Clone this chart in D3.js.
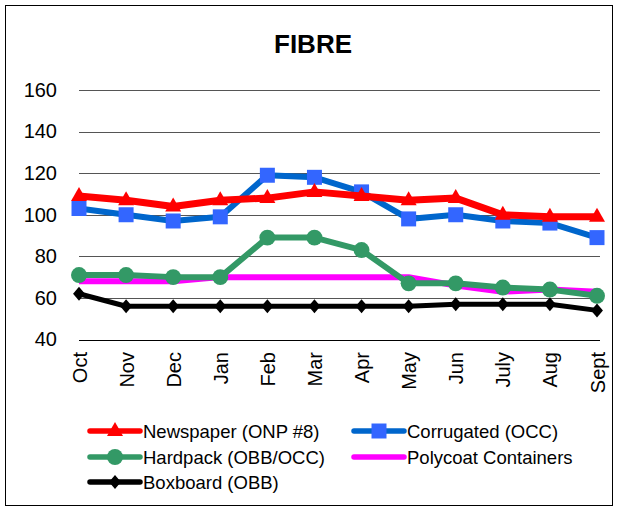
<!DOCTYPE html>
<html><head><meta charset="utf-8">
<script src="https://cdn.jsdelivr.net/npm/d3@7"></script>
<style>body{margin:0;background:#fff}svg{display:block}text{font-family:"Liberation Sans",Arial,sans-serif}</style>
</head><body>
<svg id="c" width="617" height="509"></svg>
<script>
const months = ["Oct","Nov","Dec","Jan","Feb","Mar","Apr","May","Jun","July","Aug","Sept"];
const yTicks = [40,60,80,100,120,140,160];
const newspaper  = [109,107,104,107,108,111,109,107,108,100,99,99];
const corrugated = [103,100,97,99,119,118,111,98,100,97,96,89];
const hardpack   = [71,71,70,70,89,89,83,67,67,65,64,61];
const polycoat   = [68,68,68,70,70,70,70,70,66,63,64,63];
const boxboard   = [62,56,56,56,56,56,56,56,57,57,57,54];
const seriesNames = ["Newspaper (ONP #8)","Corrugated (OCC)","Hardpack (OBB/OCC)","Polycoat Containers","Boxboard (OBB)"];

const series = [
  {name:seriesNames[0], values:newspaper, line:"#ff0000", fill:"#ff0000", marker:"triangle", w:7},
  {name:seriesNames[1], values:corrugated, line:"#0066cc", fill:"#3366ff", marker:"square", w:6},
  {name:seriesNames[2], values:hardpack, line:"#339966", fill:"#339966", marker:"circle", w:6},
  {name:seriesNames[3], values:polycoat, line:"#ff00ff", fill:"#ff00ff", marker:null, w:6},
  {name:seriesNames[4], values:boxboard, line:"#000000", fill:"#000000", marker:"diamond", w:5}
];

const svg = d3.select("#c");
svg.append("rect").attr("x",5.5).attr("y",5.5).attr("width",607).attr("height",500)
  .attr("fill","#fff").attr("stroke","#000").attr("stroke-width",1);

svg.append("text").attr("x",313).attr("y",53).attr("text-anchor","middle")
  .attr("font-size",26).attr("font-weight","bold").text("FIBRE");

const x = d3.scalePoint().domain(months).range([79,597]);
const y = d3.scaleLinear().domain([40,160]).range([339.5,90]);

// gridlines
svg.append("g").selectAll("line").data(yTicks).join("line")
  .attr("x1",79).attr("x2",600)
  .attr("y1",d=>Math.round(y(d))+0.5).attr("y2",d=>Math.round(y(d))+0.5)
  .attr("stroke",d=>d===40?"#000":"#555").attr("stroke-width",1);

// y axis labels
const yAxis = d3.axisLeft(y).tickValues(yTicks).tickSize(0).tickPadding(0);
const yg = svg.append("g").attr("transform","translate(57,0)").call(yAxis);
yg.select(".domain").remove();
yg.selectAll("text").attr("font-size",20).attr("fill","#000").attr("font-family","Liberation Sans, Arial, sans-serif");

// x axis labels
const xAxis = d3.axisBottom(x).tickSize(0).tickPadding(0);
const xg = svg.append("g").attr("transform","translate(0,352)").call(xAxis);
xg.select(".domain").remove();
xg.selectAll("text").attr("font-size",20).attr("fill","#000")
  .attr("font-family","Liberation Sans, Arial, sans-serif")
  .attr("transform","rotate(-90)").attr("text-anchor","end").attr("dy","0.35em").attr("x",0).attr("y",0);

const diamondPath = (r)=>`M0,${-r}L${r*0.85},0L0,${r}L${-r*0.85},0Z`;
const sym = {
  triangle: ()=>"M0,-9L8,5L-8,5Z",
  square: ()=>"M-7.5,-7.5H7.5V7.5H-7.5Z",
  circle: d3.symbol().type(d3.symbolCircle).size(200),
  diamond: ()=>diamondPath(7)
};

const line = d3.line().x((d,i)=>x(months[i])).y(d=>y(d));
const drawOrder = [4,3,2,1,0];
drawOrder.forEach(k=>{
  const s = series[k];
  svg.append("path").attr("d",line(s.values)).attr("fill","none")
    .attr("stroke",s.line).attr("stroke-width",s.w).attr("stroke-linejoin","round");
  if(s.marker){
    svg.append("g").selectAll("path").data(s.values).join("path")
      .attr("d",sym[s.marker]())
      .attr("transform",(d,i)=>`translate(${x(months[i])},${y(d)})`)
      .attr("fill",s.fill);
  }
});

// legend
const legPos = [[90,431],[354,431],[90,457],[354,457],[90,482]];
series.forEach((s,i)=>{
  const [lx,ly] = legPos[i];
  const g = svg.append("g").attr("transform",`translate(${lx},${ly})`);
  g.append("line").attr("x1",0).attr("x2",50).attr("y1",0).attr("y2",0)
    .attr("stroke",s.line).attr("stroke-width",5.5).attr("stroke-linecap","round");
  if(s.marker) g.append("path").attr("d",sym[s.marker]()).attr("transform","translate(25,0)").attr("fill",s.fill);
  g.append("text").attr("x",53).attr("y",1).attr("dy","0.35em").attr("font-size",18.5).text(s.name);
});
</script>
</body></html>
